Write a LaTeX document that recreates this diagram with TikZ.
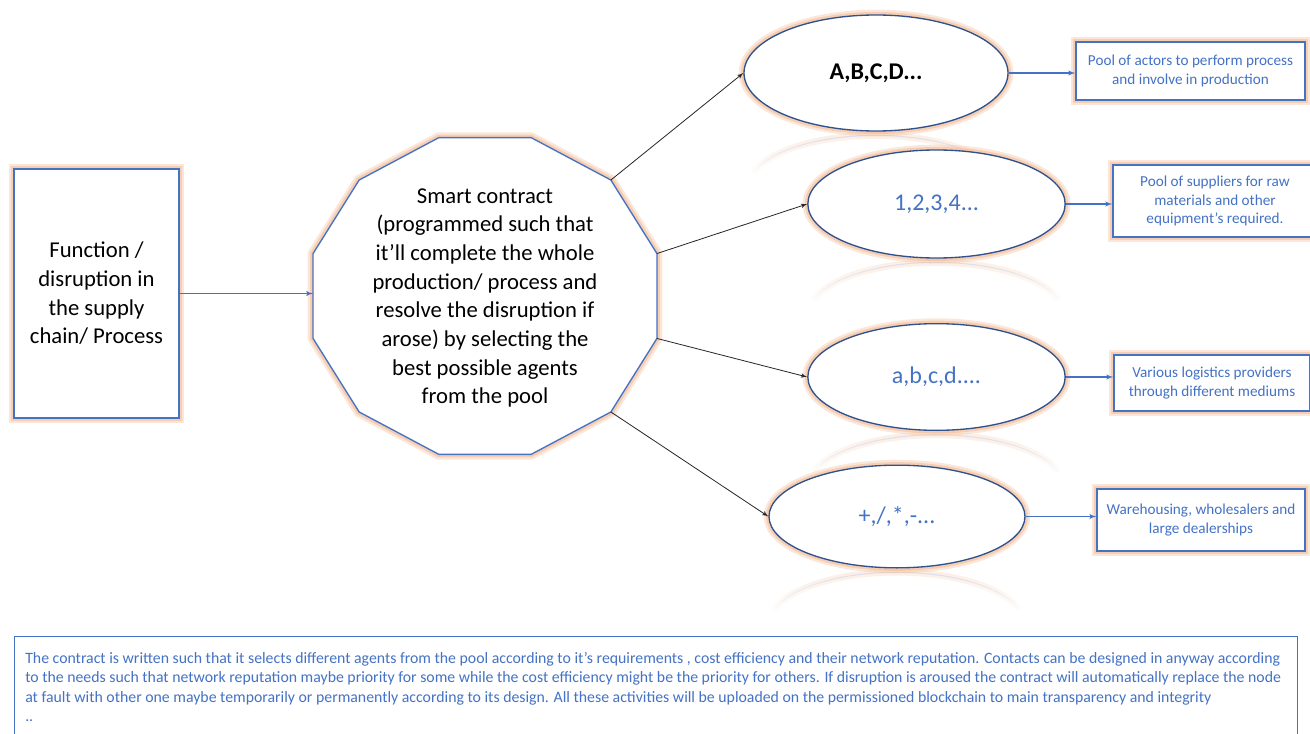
\documentclass[tikz,border=0pt]{standalone}
\usepackage{fontspec}
\setmainfont{Carlito}
\usepackage{tikz}
\usetikzlibrary{arrows,positioning,shapes.geometric,calc,fadings}
\pgfdeclarelayer{background}
\pgfsetlayers{background,main}
\definecolor{msblue}{RGB}{68,114,196}
\definecolor{msnavy}{RGB}{47,82,143}
\definecolor{glowor}{RGB}{244,177,131}
\tikzstyle{glow} = [preaction={draw=glowor, line width=8pt, opacity=0.3},
  preaction={draw=glowor, line width=4.5pt, opacity=0.45}]
\tikzstyle{frame} = [draw=msblue, line width=1pt, fill=white, glow,
  inner sep=0pt, align=center]
\tikzstyle{task} = [frame, minimum width=123.75pt, minimum height=186.75pt,
  font=\fontsize{17}{21.5}\selectfont]
\tikzstyle{pool} = [frame, ellipse, draw=msnavy, text=msblue,
  font=\fontsize{18}{22}\selectfont]
\tikzstyle{info} = [frame, text=msblue, font=\fontsize{11.4}{14.2}\selectfont]
\tikzstyle{notebox} = [draw=msblue, line width=1pt, fill=white,
  minimum width=962.25pt, minimum height=82pt]
\tikzstyle{note} = [inner sep=0pt, align=left, text=msblue,
  font=\fontsize{11.85}{14.5}\selectfont]
\tikzstyle{line} = [draw, color=msblue, line width=0.8pt, -latex']
\tikzstyle{pick} = [draw, color=black!85, line width=0.6pt, -latex']
\tikzstyle{refl} = [draw=msblue!30, line width=0.8pt, opacity=0.7,
  path fading=south,
  preaction={draw=glowor!70, line width=5pt, opacity=0.35, path fading=south}]
\newcommand{\agent}[3]{node (e#1)[pool,#3]{#2}}
\newcommand{\goal}[3]{node (b#1)[info,#3]{#2}}
% faded mirror arc under a pool
\newcommand{\mirror}[1]{%
\path [refl] ([shift={(-92pt,-31pt)}]#1.south)
  arc[start angle=165, end angle=15, x radius=95pt, y radius=38pt];}

\begin{document}
\begin{tikzpicture}[x=0.75pt,y=-0.75pt]
  \useasboundingbox (0,0) rectangle (1310,734);

  % Draw diagram elements

  \node[task] (fn) at (96.5,293.5) {Function /\\disruption in\\the supply\\chain/ Process};

  % twelve sided contract
  \foreach \k in {0,...,11}
    \coordinate (v\k) at ({485+178*cos(15+30*\k)},{296-164*sin(15+30*\k)});
  \draw[draw=msblue, line width=1pt, fill=white, glow]
    (v0) \foreach \k in {1,...,11}{ -- (v\k)} -- cycle;
  \node[align=center, font=\fontsize{17}{21.5}\selectfont] (sc) at (485,298)
    {Smart contract\\(programmed such that\\it’ll complete the whole\\production/ process and\\resolve the disruption if\\arose) by selecting the\\best possible agents\\from the pool};

  \path (876,73) \agent{1}{\textcolor{black}{\bfseries A,B,C,D...}}{minimum width=198pt, minimum height=87pt};
  \path (936.5,204) \agent{2}{1,2,3,4...}{minimum width=193pt, minimum height=81pt};
  \path (936.5,377) \agent{3}{a,b,c,d....}{minimum width=193pt, minimum height=80pt};
  \path (897,516.5) \agent{4}{+,/,*,-...}{minimum width=192pt, minimum height=77pt};
  \begin{pgfonlayer}{background}
  \fill[white] (0,0) rectangle (1310,734);
  \mirror{e1} \mirror{e2} \mirror{e3} \mirror{e4}
  \end{pgfonlayer}

  \path (1190.5,71) \goal{1}{Pool of actors to perform process\\and involve in production}{minimum width=171.75pt, minimum height=43.5pt};
  \path (1215,201) \goal{2}{Pool of suppliers for raw\\materials and other\\equipment's required.}{minimum width=153pt, minimum height=54pt};
  \path (1212,383) \goal{3}{Various logistics providers\\through different mediums}{minimum width=147pt, minimum height=42pt};
  \path (1201,520) \goal{4}{Warehousing, wholesalers and\\large dealerships}{minimum width=156pt, minimum height=46.5pt};

  \node[notebox, anchor=north west] (nb) at (14,636) {};
  \node[note, anchor=north west] (nt) at ([shift={(8.25pt,-12pt)}]nb.north west)
    {The contract is written such that it selects different agents from the pool according to it’s requirements , cost efficiency and their network reputation. Contacts can be designed in anyway according\\
     to the needs such that network reputation maybe priority for some while the cost efficiency might be the priority for others. If disruption is aroused the contract will automatically replace the node\\
     at fault with other one maybe temporarily or permanently according to its design. All these activities will be uploaded on the permissioned blockchain to main transparency and integrity\\
     ..};

  % Draw arrows between elements

  \path [line] (fn.east) -- (fn.east -| v5);
  \path [pick] (v1) -- (e1.west);
  \path [pick] (v0) -- (e2.west);
  \path [pick] (v11) -- (e3.west);
  \path [pick] (v10) -- (e4.west);
  \path [line] (e1.east) -- (e1.east -| b1.west);
  \path [line] (e2.east) -- (e2.east -| b2.west);
  \path [line] (e3.east) -- (e3.east -| b3.west);
  \path [line] (e4.east) -- (e4.east -| b4.west);

\end{tikzpicture}
\end{document}
